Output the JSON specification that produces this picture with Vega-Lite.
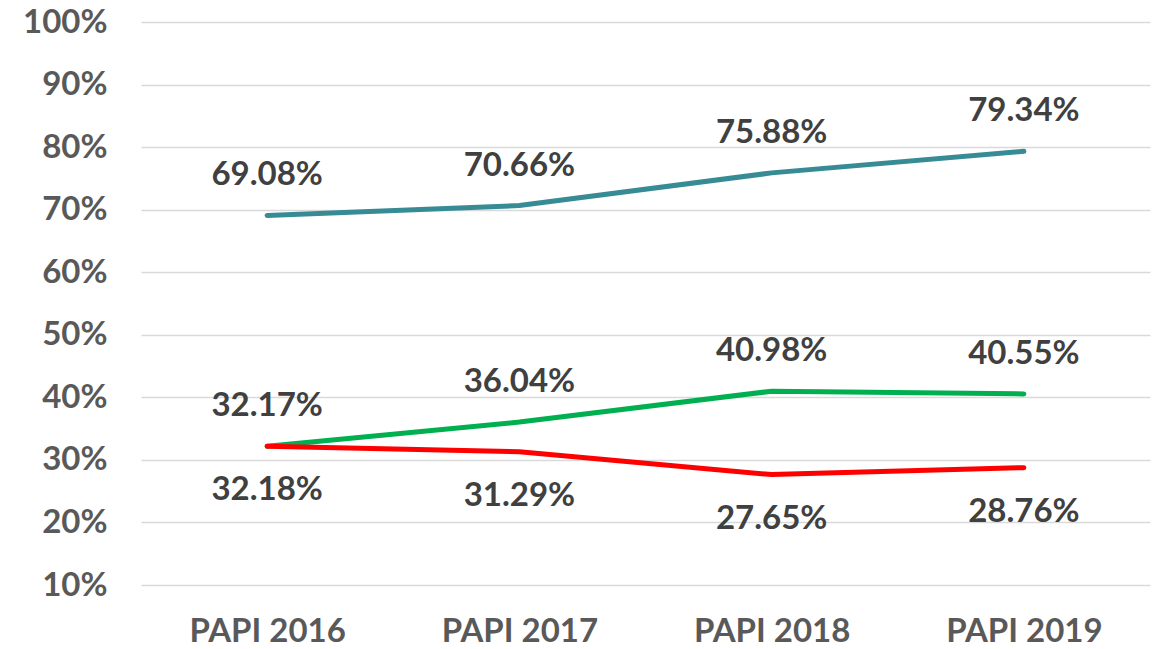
{
  "$schema": "https://vega.github.io/schema/vega-lite/v6.json",
  "width": 1009,
  "height": 563,
  "autosize": "none",
  "padding": {"left": 141, "top": 22, "right": 10, "bottom": 64},
  "background": "white",
  "config": {"view": {"stroke": null}, "font": "Lato"},
  "data": {
    "values": [
      {"year": "PAPI 2016", "series": "teal", "value": 0.6908},
      {"year": "PAPI 2017", "series": "teal", "value": 0.7066},
      {"year": "PAPI 2018", "series": "teal", "value": 0.7588},
      {"year": "PAPI 2019", "series": "teal", "value": 0.7934},
      {"year": "PAPI 2016", "series": "green", "value": 0.3217},
      {"year": "PAPI 2017", "series": "green", "value": 0.3604},
      {"year": "PAPI 2018", "series": "green", "value": 0.4098},
      {"year": "PAPI 2019", "series": "green", "value": 0.4055},
      {"year": "PAPI 2016", "series": "red", "value": 0.3218},
      {"year": "PAPI 2017", "series": "red", "value": 0.3129},
      {"year": "PAPI 2018", "series": "red", "value": 0.2765},
      {"year": "PAPI 2019", "series": "red", "value": 0.2876}
    ]
  },
  "encoding": {
    "x": {
      "field": "year", "type": "ordinal", "title": null,
      "scale": {"type": "point", "padding": 0.5},
      "axis": {"labelAngle": 0, "labelFontSize": 33, "labelFontWeight": "bold", "labelColor": "#595959", "labelPadding": 30, "ticks": false, "domain": false, "grid": false}
    },
    "y": {
      "field": "value", "type": "quantitative", "title": null,
      "scale": {"domain": [0.1, 1], "nice": false, "zero": false},
      "axis": {"values": [0.1, 0.2, 0.3, 0.4, 0.5, 0.6, 0.7, 0.8, 0.9, 1], "format": ".0%", "labelFontSize": 33, "labelFontWeight": "bold", "labelColor": "#595959", "labelPadding": 34, "ticks": false, "domain": false, "gridColor": "#d9d9d9", "gridWidth": 1.5}
    },
    "color": {
      "field": "series", "type": "nominal", "legend": null,
      "scale": {"domain": ["teal", "green", "red"], "range": ["#378B95", "#00B050", "#FF0000"]}
    }
  },
  "layer": [
    {"mark": {"type": "line", "strokeWidth": 5, "strokeCap": "round", "strokeJoin": "round"}},
    {
      "transform": [{"filter": "datum.series !== 'red'"}],
      "mark": {"type": "text", "dy": -40, "baseline": "middle", "fontSize": 33, "fontWeight": "bold"},
      "encoding": {"text": {"field": "value", "type": "quantitative", "format": ".2%"}, "color": {"value": "#404040"}}
    },
    {
      "transform": [{"filter": "datum.series === 'red'"}],
      "mark": {"type": "text", "dy": 44, "baseline": "middle", "fontSize": 33, "fontWeight": "bold"},
      "encoding": {"text": {"field": "value", "type": "quantitative", "format": ".2%"}, "color": {"value": "#404040"}}
    }
  ]
}
